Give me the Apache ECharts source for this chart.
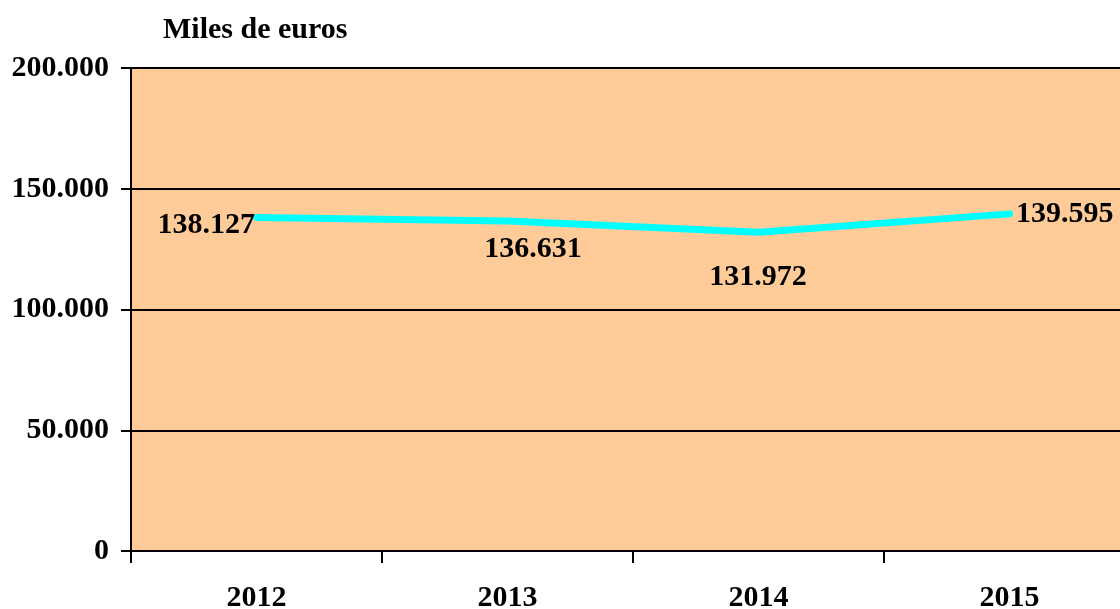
<!DOCTYPE html>
<html>
<head>
<meta charset="utf-8">
<script src="https://cdn.jsdelivr.net/npm/echarts@6/dist/echarts.min.js"></script>
<style>
    html, body { margin: 0; padding: 0; background: #fff; }
    #chart { width: 1120px; height: 609px; }
</style>
</head>
<body>
<div id="chart"></div>
<script>
// datos
var years = ['2012', '2013', '2014', '2015'];
var importes = [138127, 136631, 131972, 139595];
var yTicks = [0, 50000, 100000, 150000, 200000];

var serif = '"Liberation Serif", "Times New Roman", serif';
var fs = 30;

function fmt(v) {
    return String(v).replace(/\B(?=(\d{3})+(?!\d))/g, '.');
}

// posicion de cada etiqueta respecto al punto, como en el original
var labelPos = [
    { pos: [-1, 8], align: 'right' },
    { pos: [26, 29], align: 'center' },
    { pos: [0, 45], align: 'center' },
    { pos: [7, 1], align: 'left' }
];

var chart = echarts.init(document.getElementById('chart'));
chart.setOption({
    animation: false,
    textStyle: { fontFamily: serif },
    title: {
        text: 'Miles de euros',
        left: 158,
        top: 10,
        textStyle: { fontFamily: serif, fontWeight: 'bold', fontSize: fs, color: '#000' }
    },
    grid: {
        left: 131,
        top: 68,
        width: 1004,
        height: 483,
        outerBoundsMode: 'none',
        show: true,
        backgroundColor: '#FFCC99',
        borderWidth: 0
    },
    xAxis: {
        type: 'category',
        data: years,
        boundaryGap: true,
        axisLine: { lineStyle: { color: '#000', width: 2 } },
        axisTick: { show: true, length: 12, lineStyle: { color: '#000', width: 2 } },
        axisLabel: { color: '#000', fontWeight: 'bold', fontSize: fs, fontFamily: serif, margin: 32 }
    },
    yAxis: {
        type: 'value',
        min: yTicks[0],
        max: yTicks[yTicks.length - 1],
        interval: yTicks[1] - yTicks[0],
        axisLine: { show: true, lineStyle: { color: '#000', width: 2 } },
        axisTick: { show: true, length: 10, lineStyle: { color: '#000', width: 2 } },
        splitLine: { show: true, lineStyle: { color: '#000', width: 2 } },
        axisLabel: {
            color: '#000', fontWeight: 'bold', fontSize: fs, fontFamily: serif, margin: 22,
            formatter: function(v) { return fmt(v); }
        }
    },
    series: [{
        type: 'line',
        data: importes.map(function(v, i) {
            return {
                value: v,
                label: {
                    show: true,
                    position: labelPos[i].pos,
                    align: labelPos[i].align,
                    verticalAlign: 'middle'
                }
            };
        }),
        symbol: 'circle',
        symbolSize: 1,
        showSymbol: true,
        itemStyle: { color: 'rgba(0,0,0,0)', borderWidth: 0 },
        lineStyle: { color: '#00FFFF', width: 7, cap: 'round' },
        label: {
            show: true,
            color: '#000',
            fontWeight: 'bold',
            fontSize: fs,
            fontFamily: serif,
            formatter: function(p) { return fmt(p.value); }
        },
        labelLayout: { hideOverlap: false }
    }]
});
</script>
</body>
</html>
